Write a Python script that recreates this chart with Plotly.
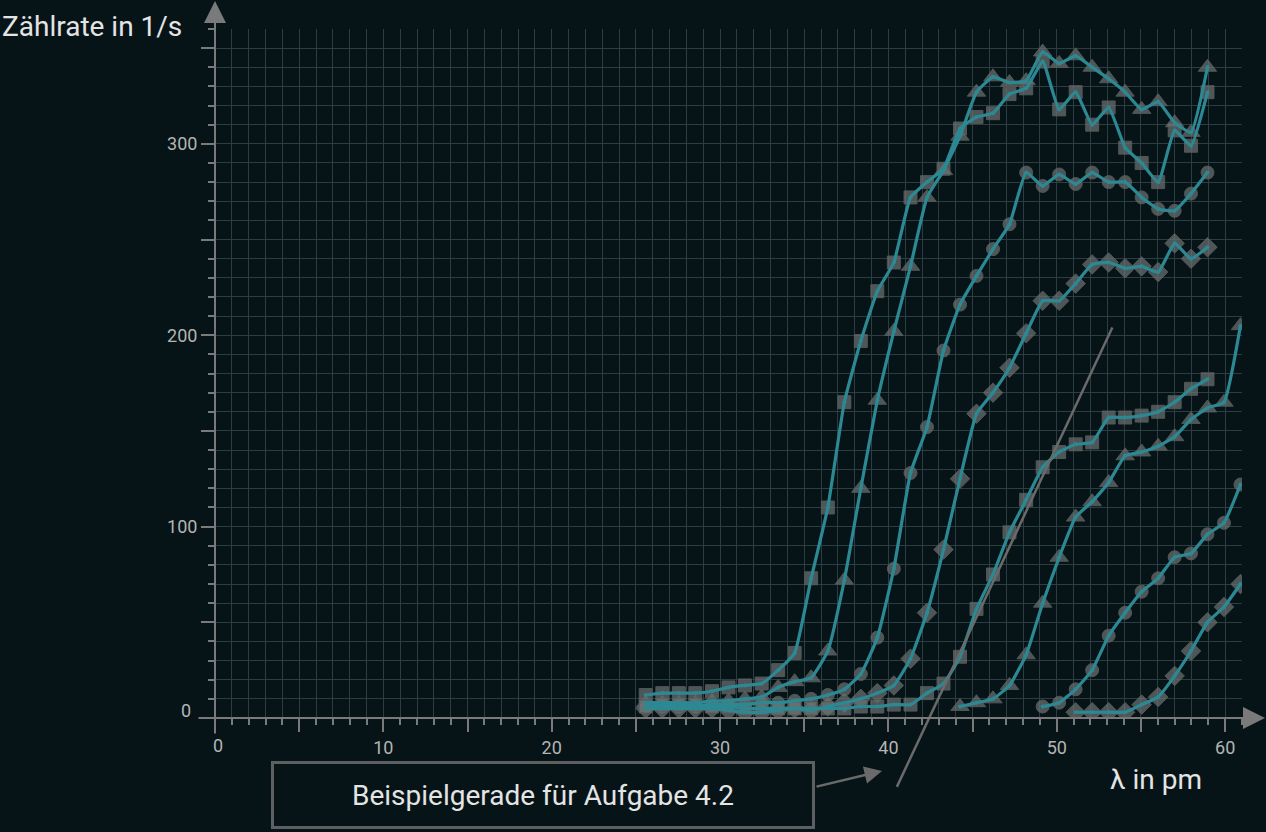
import plotly.graph_objects as go

# Wellenlänge in pm der Messpunkte (Winkelschritte 0,1°)
lam = [25.58, 26.57, 27.55, 28.53, 29.52, 30.50, 31.48, 32.47, 33.45, 34.43,
       35.41, 36.40, 37.38, 38.36, 39.34, 40.32, 41.31, 42.29, 43.27, 44.25,
       45.23, 46.21, 47.19, 48.18, 49.16, 50.14, 51.12, 52.10, 53.08, 54.06,
       55.04, 56.02, 57.00, 57.97, 58.95, 59.93, 60.91]

# Zählraten in 1/s, eine Messreihe pro Röhrenspannung
s1 = [12, 13, 13, 13, 14, 16, 17, 18, 25, 34, 73, 110, 165, 197, 223, 238, 272, 280,
      287, 308, 314, 316, 326, 329, 343, 318, 327, 310, 319, 298, 290, 280, 307, 299, 327]
s2 = [8, 8, 8, 8, 9, 9, 10, 11, 16, 19, 21, 35, 72, 120, 166, 202, 236, 272,
      286, 304, 327, 335, 332, 333, 348, 342, 346, 340, 334, 327, 318, 322, 311, 306, 340]
s3 = [6, 6, 6, 6, 7, 7, 7, 8, 8, 9, 10, 12, 15, 23, 42, 78, 128, 152,
      192, 216, 231, 245, 258, 285, 278, 284, 279, 285, 280, 280, 272, 266, 265, 274, 285]
s4 = [5, 5, 5, 5, 5, 4, 3, 3, 4, 5, 4, 6, 8, 10, 13, 17, 31, 55,
      88, 125, 159, 170, 183, 201, 218, 218, 227, 237, 238, 235, 236, 233, 248, 240, 246]
s5 = [6, 7, 7, 7, 6, 6, 5, 5, 5, 5, 5, 5, 5, 6, 6, 7, 7, 13,
      18, 32, 57, 75, 97, 114, 131, 139, 143, 144, 157, 157, 158, 160, 165, 172, 177]
s6 = [6, 8, 10, 17, 33, 60, 84, 105, 113, 123, 137, 139, 142, 147, 156, 162, 165, 205]
s7 = [6, 8, 15, 25, 43, 55, 66, 73, 84, 86, 96, 102, 122]
s8 = [3, 3, 3, 3, 7, 11, 22, 35, 50, 58, 70]

reihen = [
    (lam[:35], s1, "square", 13),
    (lam[:35], s2, "triangle-up", 16),
    (lam[:35], s3, "circle", 13),
    (lam[:35], s4, "diamond", 15),
    (lam[:35], s5, "square", 13),
    (lam[19:], s6, "triangle-up", 16),
    (lam[24:], s7, "circle", 13),
    (lam[26:], s8, "diamond", 15),
]

# Beispielgerade für Aufgabe 4.2
gerade_x = [40.5, 53.3]
gerade_y = [-36, 204]

BG = "#061418"
GRID = "#2c3e41"
AXIS = "#7a7a7a"
TEAL = "#2c8993"
FONT = "Roboto"

W, H = 1266, 832
ML, MR, MT, MB = 215, 24, 29, 0
PW, PH = W - ML - MR, H - MT - MB
Y0_PX = 718  # Pixelzeile der x-Achse


def px_x(p):
    return (p - ML) / PW


def px_y(p):
    return (H - MB - p) / PH


fig = go.Figure()

for xs, ys, sym, size in reihen:
    fig.add_trace(go.Scatter(
        x=xs, y=ys, mode="markers", hoverinfo="skip",
        marker=dict(symbol=sym, size=size, color="rgba(110,114,114,0.7)",
                    line=dict(color="rgba(85,90,90,0.9)", width=1))))
for xs, ys, sym, size in reihen:
    fig.add_trace(go.Scatter(
        x=xs, y=ys, mode="lines+markers",
        line=dict(color=TEAL, width=3.2, shape="spline", smoothing=0.4),
        marker=dict(size=4, color=TEAL)))

fig.add_trace(go.Scatter(x=gerade_x, y=gerade_y, xaxis="x2", yaxis="y2", mode="lines",
                         line=dict(color="#6a6a6a", width=2.5), hoverinfo="skip"))

ydom0 = px_y(Y0_PX)
yscale = (Y0_PX - MT) / 360.0
y2min = -(H - MB - Y0_PX) / yscale

tick_font = dict(family=FONT, size=18, color="#b4b4b4")
title_font = dict(family=FONT, size=28, color="#e4e4e4")

fig.update_layout(
    width=W, height=H,
    margin=dict(l=ML, r=MR, t=MT, b=MB),
    paper_bgcolor=BG, plot_bgcolor="rgba(0,0,0,0)",
    showlegend=False,
    font=dict(family=FONT, color="#e4e4e4"),
    xaxis=dict(domain=[0, 1], range=[0, 61], anchor="y",
               tickvals=list(range(0, 61, 5)),
               ticktext=["" if v % 10 or v == 0 else str(v) for v in range(0, 61, 5)],
               ticks="outside", ticklen=13, tickwidth=2, tickcolor=AXIS,
               tickfont=tick_font, showgrid=True, gridcolor=GRID, gridwidth=1,
               zeroline=False, showline=False,
               minor=dict(dtick=1, ticks="outside", ticklen=6, tickwidth=2,
                          tickcolor=AXIS, showgrid=True, gridcolor=GRID, gridwidth=1)),
    yaxis=dict(domain=[ydom0, 1], range=[0, 360], anchor="x",
               tickvals=list(range(0, 351, 50)),
               ticktext=["" if v % 100 or v == 0 else str(v) for v in range(0, 351, 50)],
               ticks="outside", ticklen=13, tickwidth=2, tickcolor=AXIS,
               tickfont=tick_font, showgrid=True, gridcolor=GRID, gridwidth=1,
               zeroline=False, showline=False,
               minor=dict(dtick=10, ticks="outside", ticklen=6, tickwidth=2,
                          tickcolor=AXIS, showgrid=True, gridcolor=GRID, gridwidth=1)),
    xaxis2=dict(domain=[0, 1], range=[0, 61], anchor="y2", visible=False),
    yaxis2=dict(domain=[0, 1], range=[y2min, 360], anchor="x2", visible=False),
)

# Achsen mit Pfeilspitzen
fig.add_annotation(xref="paper", yref="y", x=px_x(1265), y=0, ax=197 - 1265, ay=0,
                   axref="pixel", ayref="pixel", text="", showarrow=True,
                   arrowhead=2, arrowsize=2.2, arrowwidth=2, arrowcolor=AXIS, standoff=0)
fig.add_annotation(xref="x", yref="paper", x=0, y=px_y(1), ax=0, ay=735 - 1,
                   axref="pixel", ayref="pixel", text="", showarrow=True,
                   arrowhead=2, arrowsize=2.2, arrowwidth=2, arrowcolor=AXIS, standoff=0)

# Nullbeschriftungen leicht versetzt
fig.add_annotation(xref="paper", yref="paper", x=px_x(193), y=px_y(710), text="0",
                   showarrow=False, xanchor="right", yanchor="middle", font=tick_font)
fig.add_annotation(xref="paper", yref="paper", x=px_x(218), y=px_y(745), text="0",
                   showarrow=False, xanchor="center", yanchor="middle", font=tick_font)

# Achsentitel
fig.add_annotation(xref="paper", yref="paper", x=px_x(0), y=px_y(27), text="Zählrate in 1/s",
                   showarrow=False, xanchor="left", yanchor="middle", font=title_font)
fig.add_annotation(xref="paper", yref="paper", x=px_x(1156), y=px_y(779), text="λ in pm",
                   showarrow=False, xanchor="center", yanchor="middle", font=title_font)

# Hinweiskasten mit Pfeil
fig.add_annotation(xref="paper", yref="paper", x=px_x(543), y=px_y(795),
                   text="Beispielgerade für Aufgabe 4.2", showarrow=False,
                   xanchor="center", yanchor="middle", width=538, height=62,
                   bgcolor=BG, bordercolor="#5d6061", borderwidth=3, borderpad=0,
                   font=title_font)
fig.add_annotation(xref="paper", yref="paper", x=px_x(882), y=px_y(771), ax=-67, ay=16,
                   axref="pixel", ayref="pixel", text="", showarrow=True,
                   arrowhead=2, arrowsize=1.4, arrowwidth=2.5, arrowcolor="#6a6a6a", standoff=0)

fig.write_html("out.html", config={"displayModeBar": False},
               post_script="document.body.style.margin='0';")
